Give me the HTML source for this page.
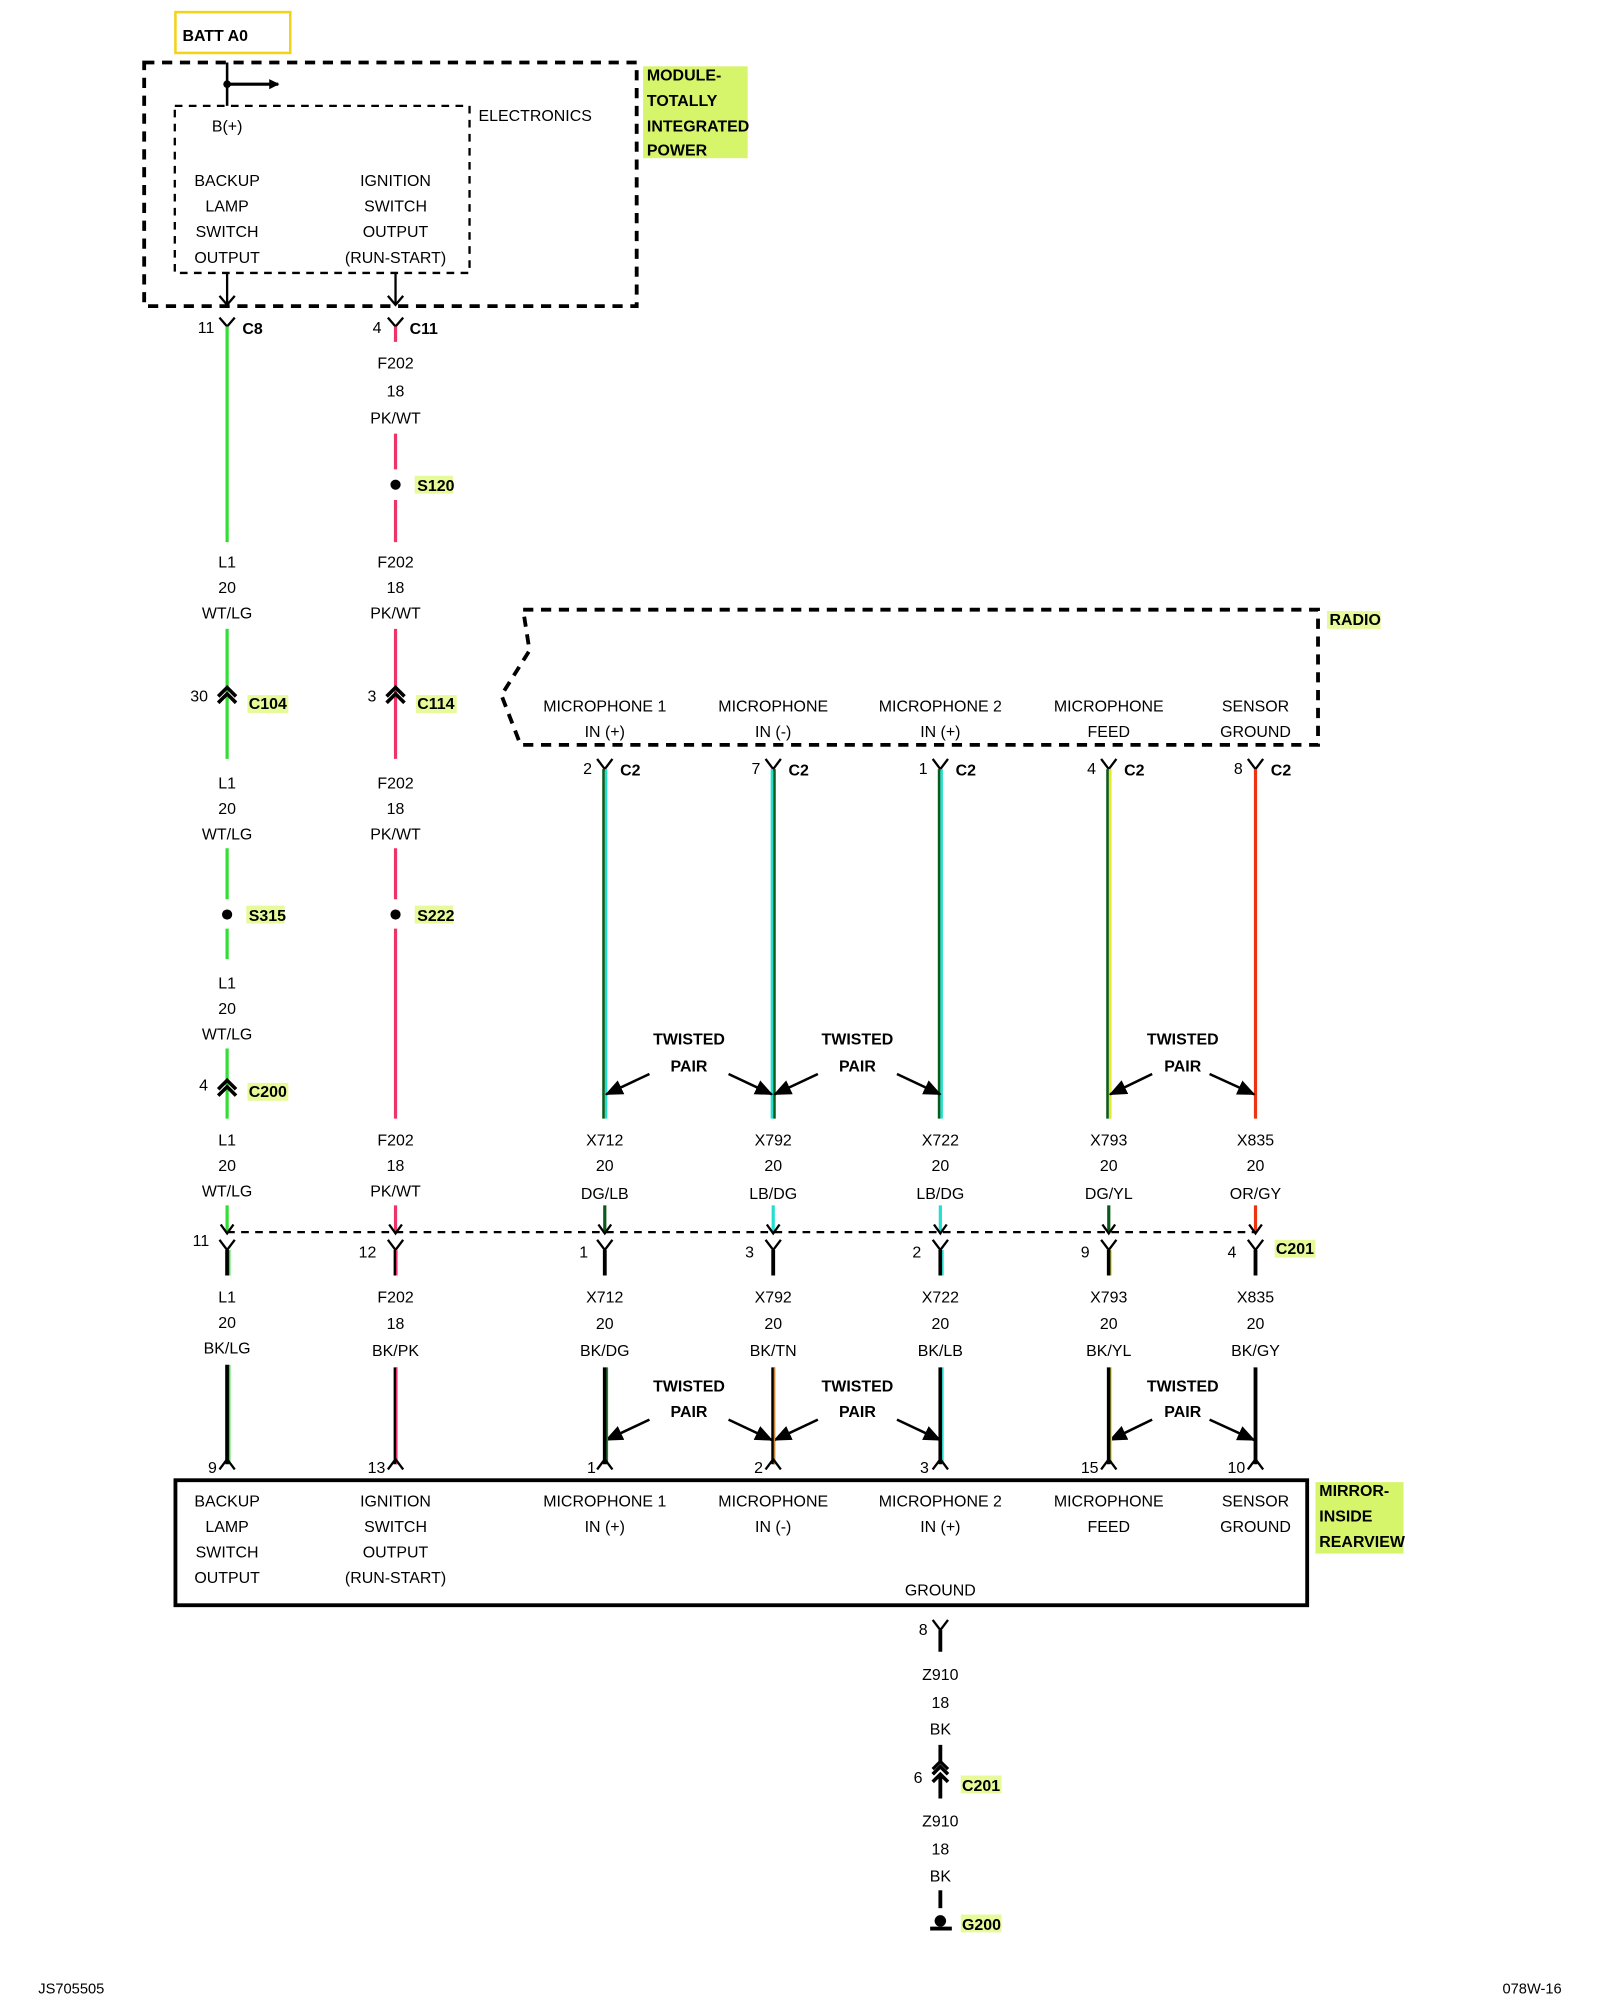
<!DOCTYPE html>
<html><head><meta charset="utf-8"><style>
html,body{margin:0;padding:0;background:#fff;}
svg{display:block}
text{font-family:"Liberation Sans",sans-serif;font-size:12.5px;fill:#000}
.c{text-anchor:middle}
.b{font-weight:bold;font-size:12.5px}
.e{text-anchor:end}
</style></head><body>
<svg width="1600" height="2000" viewBox="0 0 1254 1568" preserveAspectRatio="none" xmlns="http://www.w3.org/2000/svg">
<defs>
<marker id="ah" markerWidth="8" markerHeight="8" refX="7" refY="4" orient="auto" markerUnits="userSpaceOnUse"><path d="M0,0 L8,4 L0,8 z" fill="#000"/></marker>
<marker id="ta" markerWidth="14" markerHeight="12" refX="13" refY="6" orient="auto" markerUnits="userSpaceOnUse"><path d="M0,0 L14,6 L0,12 z" fill="#000"/></marker>
</defs>
<rect width="1254" height="1568" fill="#fff"/>
<rect x="137.5" y="9.5" width="90" height="32" fill="none" stroke="#f5d21a" stroke-width="2"/>
<text x="143" y="32" class="b">BATT A0</text>
<rect x="113" y="49" width="386" height="191" fill="none" stroke="#000" stroke-width="3" stroke-dasharray="8,6"/>
<rect x="137" y="83" width="231" height="131" fill="none" stroke="#000" stroke-width="1.8" stroke-dasharray="6,5"/>
<path d="M178 49 V83" stroke="#000" stroke-width="2"/>
<circle cx="178" cy="66" r="3" fill="#000"/>
<path d="M178 66 H218" stroke="#000" stroke-width="2.5" marker-end="url(#ah)"/>
<text x="178" y="103" class="c">B(+)</text>
<text x="375" y="95">ELECTRONICS</text>
<rect x="504" y="52" width="82" height="72" fill="#d6f56b"/>
<text x="507" y="63" class="b">MODULE-</text><text x="507" y="83" class="b">TOTALLY</text><text x="507" y="103" class="b">INTEGRATED</text><text x="507" y="122" class="b">POWER</text>
<text x="178" y="146" class="c">BACKUP</text><text x="178" y="166" class="c">LAMP</text><text x="178" y="186" class="c">SWITCH</text><text x="178" y="206" class="c">OUTPUT</text>
<text x="310" y="146" class="c">IGNITION</text><text x="310" y="166" class="c">SWITCH</text><text x="310" y="186" class="c">OUTPUT</text><text x="310" y="206" class="c">(RUN-START)</text>
<path d="M178 214 V239 M172 232 L178 239 L184 232 M310 214 V239 M304 232 L310 239 L316 232" stroke="#000" stroke-width="1.8" fill="none"/>
<path d="M172 249 L178 256 L184 249 M304 249 L310 256 L316 249" stroke="#000" stroke-width="1.8" fill="none"/>
<text x="168" y="261" class="e">11</text><text x="190" y="262" class="b">C8</text>
<text x="299" y="261" class="e">4</text><text x="321" y="262" class="b">C11</text>
<g stroke="#33dd33" stroke-width="2.5">
<path d="M178 256 V425 M178 493 V595 M178 665 V705 M178 728 V752 M178 822 V877 M178 945 V966"/>
</g>
<g stroke="#ee3366" stroke-width="2.5">
<path d="M310 256 V268 M310 340 V368 M310 392 V425 M310 493 V595 M310 665 V705 M310 728 V877 M310 945 V966"/>
</g>
<text x="178" y="445" class="c">L1</text><text x="178" y="465" class="c">20</text><text x="178" y="485" class="c">WT/LG</text>
<text x="178" y="618" class="c">L1</text><text x="178" y="638" class="c">20</text><text x="178" y="658" class="c">WT/LG</text>
<text x="178" y="775" class="c">L1</text><text x="178" y="795" class="c">20</text><text x="178" y="815" class="c">WT/LG</text>
<text x="178" y="898" class="c">L1</text><text x="178" y="918" class="c">20</text><text x="178" y="938" class="c">WT/LG</text>
<text x="310" y="289" class="c">F202</text><text x="310" y="311" class="c">18</text><text x="310" y="332" class="c">PK/WT</text>
<text x="310" y="445" class="c">F202</text><text x="310" y="465" class="c">18</text><text x="310" y="485" class="c">PK/WT</text>
<text x="310" y="618" class="c">F202</text><text x="310" y="638" class="c">18</text><text x="310" y="658" class="c">PK/WT</text>
<text x="310" y="898" class="c">F202</text><text x="310" y="918" class="c">18</text><text x="310" y="938" class="c">PK/WT</text>
<circle cx="310" cy="380" r="4" fill="#000"/><rect x="325" y="373" width="30" height="14" fill="#e6fa9a"/><text x="327" y="385" class="b">S120</text>
<circle cx="178" cy="717" r="4" fill="#000"/><rect x="193" y="710" width="30" height="14" fill="#e6fa9a"/><text x="195" y="722" class="b">S315</text>
<circle cx="310" cy="717" r="4" fill="#000"/><rect x="325" y="710" width="30" height="14" fill="#e6fa9a"/><text x="327" y="722" class="b">S222</text>
<path d="M171 546 L178 539 L185 546 M171 551 L178 544 L185 551 M303 546 L310 539 L317 546 M303 551 L310 544 L317 551 M171 854 L178 847 L185 854 M171 859 L178 852 L185 859" stroke="#000" stroke-width="2.8" fill="none"/>
<text x="163" y="550" class="e">30</text><rect x="194" y="545" width="32" height="14" fill="#e6fa9a"/><text x="195" y="556" class="b">C104</text>
<text x="295" y="550" class="e">3</text><rect x="326" y="545" width="32" height="14" fill="#e6fa9a"/><text x="327" y="556" class="b">C114</text>
<text x="163" y="855" class="e">4</text><rect x="194" y="849" width="32" height="14" fill="#e6fa9a"/><text x="195" y="860" class="b">C200</text>
<path d="M410 478 H1033 V584 H408 L393 545 L415 510 Z" fill="none" stroke="#000" stroke-width="3" stroke-dasharray="8,6"/>
<rect x="1040" y="479" width="42" height="14" fill="#e6fa9a"/><text x="1042" y="490" class="b">RADIO</text>
<text x="474" y="558" class="c">MICROPHONE 1</text><text x="474" y="578" class="c">IN (+)</text>
<text x="606" y="558" class="c">MICROPHONE</text><text x="606" y="578" class="c">IN (-)</text>
<text x="737" y="558" class="c">MICROPHONE 2</text><text x="737" y="578" class="c">IN (+)</text>
<text x="869" y="558" class="c">MICROPHONE</text><text x="869" y="578" class="c">FEED</text>
<text x="984" y="558" class="c">SENSOR</text><text x="984" y="578" class="c">GROUND</text>
<path d="M468 595 L474 603 L480 595 M600 595 L606 603 L612 595 M731 595 L737 603 L743 595 M863 595 L869 603 L875 595 M978 595 L984 603 L990 595" stroke="#000" stroke-width="1.8" fill="none"/>
<text x="464" y="607" class="e">2</text><text x="486" y="608" class="b">C2</text>
<text x="596" y="607" class="e">7</text><text x="618" y="608" class="b">C2</text>
<text x="727" y="607" class="e">1</text><text x="749" y="608" class="b">C2</text>
<text x="859" y="607" class="e">4</text><text x="881" y="608" class="b">C2</text>
<text x="974" y="607" class="e">8</text><text x="996" y="608" class="b">C2</text>
<g stroke-width="2">
<path d="M475 603 V877 M605 603 V877 M738 603 V877 M870 603 V877" stroke="#22e0d0"/>
<path d="M473 603 V877 M607 603 V877 M736 603 V877" stroke="#0a5a1a"/>
<path d="M870 603 V877" stroke="#e8e830"/>
<path d="M868 603 V877" stroke="#0a5a1a"/>
<path d="M984 603 V877" stroke="#ee3311" stroke-width="2.5"/>
</g>
<text x="540" y="819" class="c b">TWISTED</text><text x="540" y="840" class="c b">PAIR</text>
<text x="672" y="819" class="c b">TWISTED</text><text x="672" y="840" class="c b">PAIR</text>
<text x="927" y="819" class="c b">TWISTED</text><text x="927" y="840" class="c b">PAIR</text>
<text x="540" y="1091" class="c b">TWISTED</text><text x="540" y="1111" class="c b">PAIR</text>
<text x="672" y="1091" class="c b">TWISTED</text><text x="672" y="1111" class="c b">PAIR</text>
<text x="927" y="1091" class="c b">TWISTED</text><text x="927" y="1111" class="c b">PAIR</text>
<g stroke="#000" stroke-width="2" marker-end="url(#ta)">
<path d="M509 842 L475 858"/><path d="M571 842 L605 858"/><path d="M641 842 L607 858"/><path d="M703 842 L737 858"/><path d="M903 842 L870 858"/><path d="M948 842 L983 858"/>
<path d="M509 1113 L475 1129"/><path d="M571 1113 L605 1129"/><path d="M641 1113 L607 1129"/><path d="M703 1113 L737 1129"/><path d="M903 1113 L870 1129"/><path d="M948 1113 L983 1129"/>
</g>
<text x="474" y="898" class="c">X712</text><text x="474" y="918" class="c">20</text><text x="474" y="940" class="c">DG/LB</text>
<text x="606" y="898" class="c">X792</text><text x="606" y="918" class="c">20</text><text x="606" y="940" class="c">LB/DG</text>
<text x="737" y="898" class="c">X722</text><text x="737" y="918" class="c">20</text><text x="737" y="940" class="c">LB/DG</text>
<text x="869" y="898" class="c">X793</text><text x="869" y="918" class="c">20</text><text x="869" y="940" class="c">DG/YL</text>
<text x="984" y="898" class="c">X835</text><text x="984" y="918" class="c">20</text><text x="984" y="940" class="c">OR/GY</text>
<g stroke-width="2.5">
<path d="M474 945 V966" stroke="#0a5a1a"/><path d="M606 945 V966" stroke="#22e0d0"/><path d="M737 945 V966" stroke="#22e0d0"/><path d="M869 945 V966" stroke="#0a5a1a"/><path d="M984 945 V966" stroke="#ee3311"/>
</g>
<path d="M178 966 H984" stroke="#000" stroke-width="1.8" stroke-dasharray="6,5"/>
<g stroke="#000" stroke-width="1.8" fill="none">
<path d="M173 960 L178 967 L183 960 M305 960 L310 967 L315 960 M469 960 L474 967 L479 960 M601 960 L606 967 L611 960 M732 960 L737 967 L742 960 M864 960 L869 967 L874 960 M979 960 L984 967 L989 960"/>
<path d="M172 972 L178 980 L184 972 M304 972 L310 980 L316 972 M468 972 L474 980 L480 972 M600 972 L606 980 L612 972 M731 972 L737 980 L743 972 M863 972 L869 980 L875 972 M978 972 L984 980 L990 972"/>
</g>
<path d="M178 980 V1000 M310 980 V1000 M474 980 V1000 M606 980 V1000 M737 980 V1000 M869 980 V1000 M984 980 V1000 M178 1070 V1148 M310 1072 V1148 M474 1072 V1148 M606 1072 V1148 M737 1072 V1148 M869 1072 V1148 M984 1072 V1148" stroke="#000" stroke-width="3"/>
<g stroke-width="1.2">
<path d="M180 980 V1000 M180 1070 V1148" stroke="#33dd33"/>
<path d="M311 980 V1000 M311 1072 V1148" stroke="#ee3366"/>
<path d="M476 1072 V1148" stroke="#1a8a2a"/>
<path d="M607 1072 V1148" stroke="#c8863a"/>
<path d="M739 980 V1000 M739 1072 V1148" stroke="#22e0d0"/>
<path d="M871 980 V1000 M871 1072 V1148" stroke="#e8e830"/>
</g>
<text x="164" y="977" class="e">11</text><text x="295" y="986" class="e">12</text><text x="461" y="986" class="e">1</text><text x="591" y="986" class="e">3</text><text x="722" y="986" class="e">2</text><text x="854" y="986" class="e">9</text><text x="969" y="986" class="e">4</text>
<rect x="999" y="972" width="32" height="14" fill="#e6fa9a"/><text x="1000" y="983" class="b">C201</text>
<text x="178" y="1021" class="c">L1</text><text x="178" y="1041" class="c">20</text><text x="178" y="1061" class="c">BK/LG</text>
<text x="310" y="1021" class="c">F202</text><text x="310" y="1042" class="c">18</text><text x="310" y="1063" class="c">BK/PK</text>
<text x="474" y="1021" class="c">X712</text><text x="474" y="1042" class="c">20</text><text x="474" y="1063" class="c">BK/DG</text>
<text x="606" y="1021" class="c">X792</text><text x="606" y="1042" class="c">20</text><text x="606" y="1063" class="c">BK/TN</text>
<text x="737" y="1021" class="c">X722</text><text x="737" y="1042" class="c">20</text><text x="737" y="1063" class="c">BK/LB</text>
<text x="869" y="1021" class="c">X793</text><text x="869" y="1042" class="c">20</text><text x="869" y="1063" class="c">BK/YL</text>
<text x="984" y="1021" class="c">X835</text><text x="984" y="1042" class="c">20</text><text x="984" y="1063" class="c">BK/GY</text>
<path d="M172 1152 L178 1144 L184 1152 M304 1152 L310 1144 L316 1152 M468 1152 L474 1144 L480 1152 M600 1152 L606 1144 L612 1152 M731 1152 L737 1144 L743 1152 M863 1152 L869 1144 L875 1152 M978 1152 L984 1144 L990 1152" stroke="#000" stroke-width="1.8" fill="none"/>
<text x="170" y="1155" class="e">9</text><text x="302" y="1155" class="e">13</text><text x="467" y="1155" class="e">1</text><text x="598" y="1155" class="e">2</text><text x="728" y="1155" class="e">3</text><text x="861" y="1155" class="e">15</text><text x="976" y="1155" class="e">10</text>
<rect x="137.5" y="1160.5" width="887" height="98" fill="none" stroke="#000" stroke-width="3"/>
<rect x="1031" y="1162" width="69" height="56" fill="#d6f56b"/>
<text x="1034" y="1173" class="b">MIRROR-</text><text x="1034" y="1193" class="b">INSIDE</text><text x="1034" y="1213" class="b">REARVIEW</text>
<text x="178" y="1181" class="c">BACKUP</text><text x="178" y="1201" class="c">LAMP</text><text x="178" y="1221" class="c">SWITCH</text><text x="178" y="1241" class="c">OUTPUT</text>
<text x="310" y="1181" class="c">IGNITION</text><text x="310" y="1201" class="c">SWITCH</text><text x="310" y="1221" class="c">OUTPUT</text><text x="310" y="1241" class="c">(RUN-START)</text>
<text x="474" y="1181" class="c">MICROPHONE 1</text><text x="474" y="1201" class="c">IN (+)</text>
<text x="606" y="1181" class="c">MICROPHONE</text><text x="606" y="1201" class="c">IN (-)</text>
<text x="737" y="1181" class="c">MICROPHONE 2</text><text x="737" y="1201" class="c">IN (+)</text>
<text x="869" y="1181" class="c">MICROPHONE</text><text x="869" y="1201" class="c">FEED</text>
<text x="984" y="1181" class="c">SENSOR</text><text x="984" y="1201" class="c">GROUND</text>
<text x="737" y="1251" class="c">GROUND</text>
<path d="M731 1270 L737 1278 L743 1270" stroke="#000" stroke-width="1.8" fill="none"/>
<path d="M737 1278 V1295 M737 1368 V1381 M737 1393 V1410" stroke="#000" stroke-width="3"/>
<path d="M731 1387 L737 1381 L743 1387" stroke="#000" stroke-width="2.5" fill="none"/>
<path d="M731 1391 L737 1385 L743 1391 M731 1397 L737 1391 L743 1397" stroke="#000" stroke-width="2.8" fill="none"/>
<text x="723" y="1398" class="e">6</text><rect x="753" y="1392" width="32" height="14" fill="#e6fa9a"/><text x="754" y="1404" class="b">C201</text>
<text x="727" y="1282" class="e">8</text>
<text x="737" y="1317" class="c">Z910</text><text x="737" y="1339" class="c">18</text><text x="737" y="1360" class="c">BK</text>
<text x="737" y="1432" class="c">Z910</text><text x="737" y="1454" class="c">18</text><text x="737" y="1475" class="c">BK</text>
<path d="M737 1482 V1496" stroke="#000" stroke-width="3"/>
<circle cx="737" cy="1506" r="4.5" fill="#000"/>
<path d="M729 1512 H746" stroke="#000" stroke-width="3"/>
<rect x="753" y="1501" width="32" height="14" fill="#e6fa9a"/><text x="754" y="1513" class="b">G200</text>
<text x="30" y="1563" style="font-size:11.5px">JS705505</text>
<text x="1224" y="1563" class="e" style="font-size:11.5px">078W-16</text>
</svg>
</body></html>
